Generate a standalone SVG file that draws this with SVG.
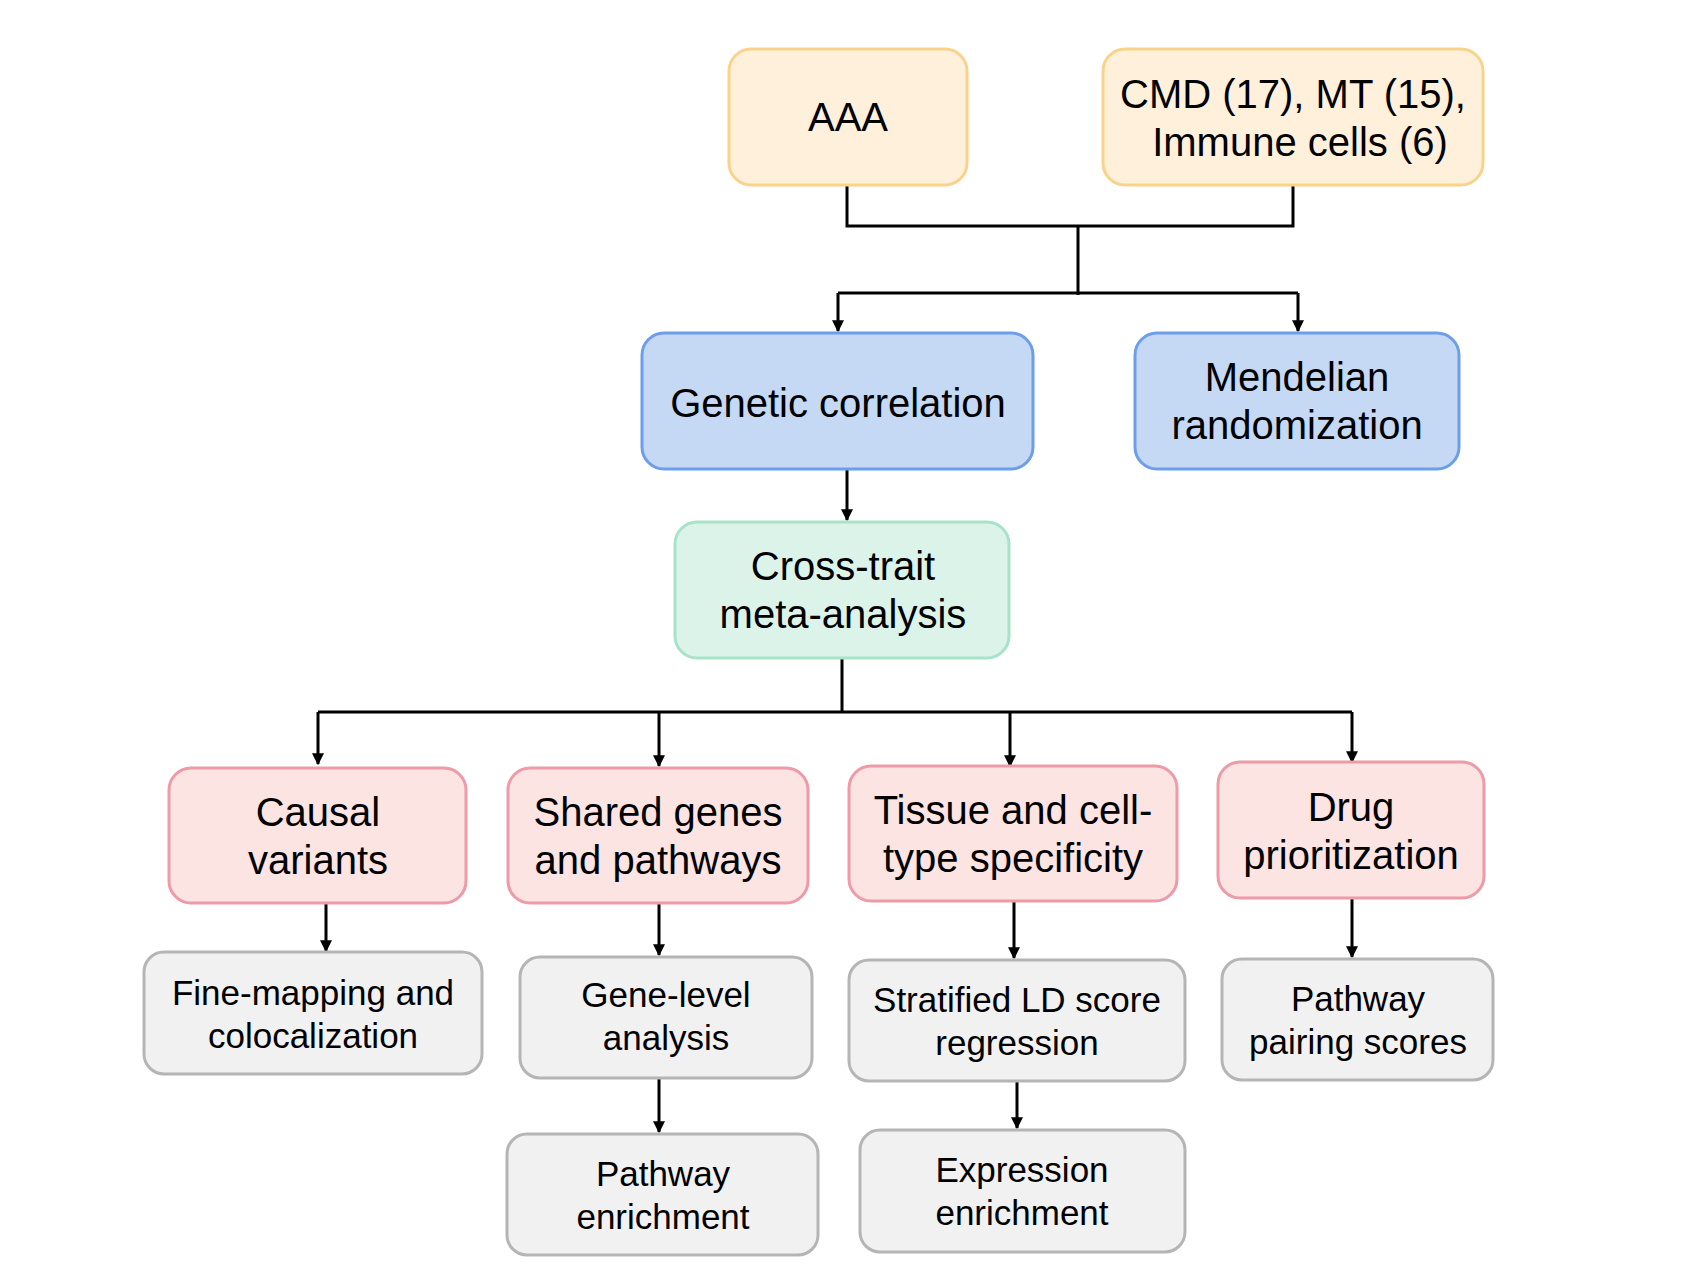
<svg xmlns="http://www.w3.org/2000/svg" width="1704" height="1267" viewBox="0 0 1704 1267">
<defs>
<marker id="a" viewBox="0 0 10 10" refX="9" refY="5" markerWidth="4" markerHeight="4" orient="auto"><path d="M0,0L10,5L0,10z" fill="#000"/></marker>
<style>
rect{stroke-width:3}
.o{fill:#fff0dc;stroke:#fad38a}.b{fill:#c5d9f5;stroke:#6d9eeb}.g{fill:#dcf3ea;stroke:#a6e3c8}.p{fill:#fbe4e1;stroke:#ee9aa8}.y{fill:#f1f1f1;stroke:#b5b5b5}
text{font-family:"Liberation Sans",Arial,sans-serif;text-anchor:middle;fill:#000}
.l{font-size:40px}.s{font-size:35px}
#c path{fill:none;stroke:#000;stroke-width:3}
</style>
</defs>
<g id="c">
<path d="M847,185V226H1293V185M1078,226V295"/>
<path d="M838,293H1298" /><path d="M838,293V331" marker-end="url(#a)"/><path d="M1298,293V331" marker-end="url(#a)"/>
<path d="M847,469V520" marker-end="url(#a)"/>
<path d="M842,658V712M318,712H1352"/>
<path d="M318,712V764" marker-end="url(#a)"/><path d="M659,712V766" marker-end="url(#a)"/><path d="M1010,712V766" marker-end="url(#a)"/><path d="M1352,712V762" marker-end="url(#a)"/>
<path d="M326,898V951" marker-end="url(#a)"/><path d="M659,903V955" marker-end="url(#a)"/><path d="M1014,901V958" marker-end="url(#a)"/><path d="M1352,898V957" marker-end="url(#a)"/>
<path d="M659,1078V1132" marker-end="url(#a)"/><path d="M1017,1081V1128" marker-end="url(#a)"/>
</g>
<g id="n1"><rect class="o" x="729" y="49" width="238" height="136" rx="22"/><text class="l" x="848" y="131">AAA</text></g>
<g id="n2"><rect class="o" x="1103" y="49" width="380" height="136" rx="22"/><text class="l" x="1293" y="108">CMD (17), MT (15),</text><text class="l" x="1300" y="156">Immune cells (6)</text></g>
<g id="n3"><rect class="b" x="642" y="333" width="391" height="136" rx="22"/><text class="l" x="838" y="417">Genetic correlation</text></g>
<g id="n4"><rect class="b" x="1135" y="333" width="324" height="136" rx="22"/><text class="l" x="1297" y="391">Mendelian</text><text class="l" x="1297" y="439">randomization</text></g>
<g id="n5"><rect class="g" x="675" y="522" width="334" height="136" rx="22"/><text class="l" x="843" y="580">Cross-trait</text><text class="l" x="843" y="628">meta-analysis</text></g>
<g id="n6"><rect class="p" x="169" y="768" width="297" height="135" rx="22"/><text class="l" x="318" y="826">Causal</text><text class="l" x="318" y="874">variants</text></g>
<g id="n7"><rect class="p" x="508" y="768" width="300" height="135" rx="22"/><text class="l" x="658" y="826">Shared genes</text><text class="l" x="658" y="874">and pathways</text></g>
<g id="n8"><rect class="p" x="849" y="766" width="328" height="135" rx="22"/><text class="l" x="1013" y="824">Tissue and cell-</text><text class="l" x="1013" y="872">type specificity</text></g>
<g id="n9"><rect class="p" x="1218" y="762" width="266" height="136" rx="22"/><text class="l" x="1351" y="821">Drug</text><text class="l" x="1351" y="869">prioritization</text></g>
<g id="n10"><rect class="y" x="144" y="952" width="338" height="122" rx="20"/><text class="s" x="313" y="1005">Fine-mapping and</text><text class="s" x="313" y="1048">colocalization</text></g>
<g id="n11"><rect class="y" x="520" y="957" width="292" height="121" rx="20"/><text class="s" x="666" y="1007">Gene-level</text><text class="s" x="666" y="1050">analysis</text></g>
<g id="n12"><rect class="y" x="849" y="960" width="336" height="121" rx="20"/><text class="s" x="1017" y="1012">Stratified LD score</text><text class="s" x="1017" y="1055">regression</text></g>
<g id="n13"><rect class="y" x="1222" y="959" width="271" height="121" rx="20"/><text class="s" x="1358" y="1011">Pathway</text><text class="s" x="1358" y="1054">pairing scores</text></g>
<g id="n14"><rect class="y" x="507" y="1134" width="311" height="121" rx="20"/><text class="s" x="663" y="1186">Pathway</text><text class="s" x="663" y="1229">enrichment</text></g>
<g id="n15"><rect class="y" x="860" y="1130" width="325" height="122" rx="20"/><text class="s" x="1022" y="1182">Expression</text><text class="s" x="1022" y="1225">enrichment</text></g>
</svg>
